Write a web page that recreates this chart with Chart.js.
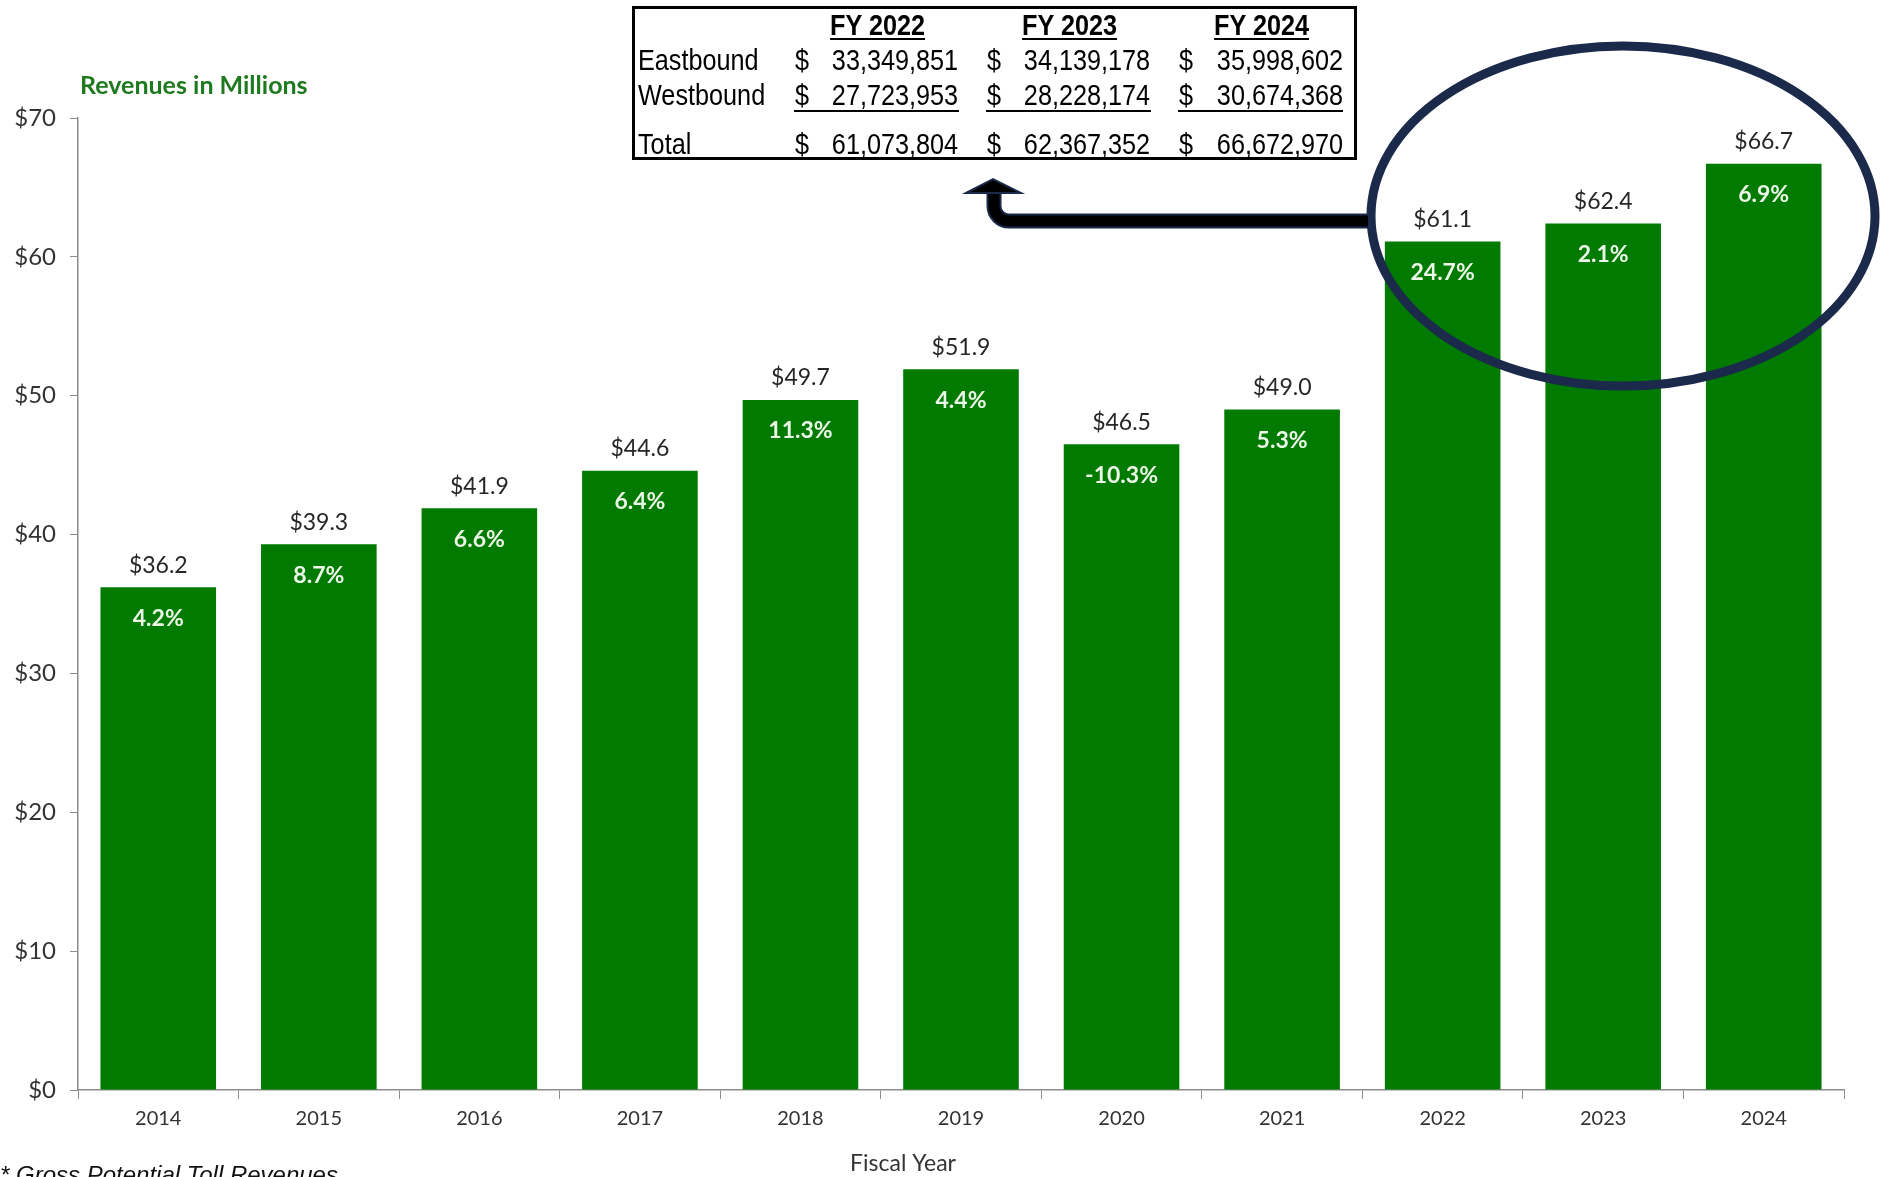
<!DOCTYPE html>
<html>
<head>
<meta charset="utf-8">
<script src="https://cdn.jsdelivr.net/npm/chart.js@4.4.1/dist/chart.umd.min.js"></script>
<style>
  html, body { margin: 0; padding: 0; background: #fff; }
  #wrap { position: relative; width: 1881px; height: 1177px; overflow: hidden; }
  #c { position: absolute; left: 0; top: 0; }
  #tbl { position: absolute; left: 632px; top: 6px; width: 719px; height: 148px;
         border: 3px solid #000; font-family: "Liberation Sans", Arial, sans-serif;
         font-size: 29px; color: #000; }
  #tbl span { position: absolute; white-space: nowrap; line-height: 1; }
  #tbl .hdr { font-weight: bold; text-decoration: underline; text-decoration-thickness: 2px; text-underline-offset: 3px; }
  #tbl .rule { position: absolute; height: 2px; background: #000; }
</style>
</head>
<body>
<div id="wrap">
  <canvas id="c" width="1881" height="1177"></canvas>
  <div id="tbl"></div>
</div>
<script>
// Fiscal-year toll revenues, $ millions
const years = ['2014', '2015', '2016', '2017', '2018', '2019', '2020', '2021', '2022', '2023', '2024'];
const revenues = [36.2, 39.3, 41.9, 44.6, 49.7, 51.9, 46.5, 49.0, 61.1, 62.4, 66.7];
const growthPct = [4.2, 8.7, 6.6, 6.4, 11.3, 4.4, -10.3, 5.3, 24.7, 2.1, 6.9];
const yTicks = [0, 10, 20, 30, 40, 50, 60, 70];

// Direction breakdown for the latest three years, $
const tableYears = ['FY 2022', 'FY 2023', 'FY 2024'];
const eastbound = [33349851, 34139178, 35998602];
const westbound = [27723953, 28228174, 30674368];
const totals = [61073804, 62367352, 66672970];

const BAR_GREEN = '#007a00';
const FONT = 'Lato, "Open Sans", sans-serif';
const NARROW = 0.87; // horizontal squeeze for the table's condensed look

// ---- summary table (HTML overlay) ----
(function buildTable() {
  const tbl = document.getElementById('tbl');
  const ox = 635, oy = 9; // inner origin of the box
  const put = (text, x, y, cls, anchor) => {
    const s = document.createElement('span');
    s.textContent = text;
    if (cls) s.className = cls;
    tbl.appendChild(s);
    const w = s.offsetWidth, h = s.offsetHeight;
    let left = x - ox;
    let origin = 'left';
    if (anchor === 'center') { left -= w / 2; origin = 'center'; }
    else if (anchor === 'right') { left -= w; origin = 'right'; }
    s.style.left = left + 'px';
    s.style.top = (y - oy - h / 2) + 'px';
    s.style.transformOrigin = origin + ' center';
    s.style.transform = 'scaleX(' + NARROW + ')';
  };
  const fmt = v => v.toLocaleString('en-US');
  const hdrX = [877, 1069, 1261];
  const dollarX = [802, 994, 1186];
  const numR = [958, 1150, 1343];
  const rows = [['Eastbound', eastbound, 60], ['Westbound', westbound, 95], ['Total', totals, 144]];
  tableYears.forEach((t, i) => put(t, hdrX[i], 25, 'hdr', 'center'));
  rows.forEach(([name, vals, y]) => {
    put(name, 638, y, '', 'left');
    vals.forEach((v, i) => {
      put('$', dollarX[i], y, '', 'center');
      put(fmt(v), numR[i], y, '', 'right');
    });
  });
  [[794, 959], [986, 1151], [1178, 1343]].forEach(([a, b]) => {
    const r = document.createElement('div');
    r.className = 'rule';
    r.style.left = (a - ox) + 'px';
    r.style.top = (110 - oy) + 'px';
    r.style.width = (b - a) + 'px';
    tbl.appendChild(r);
  });
})();

// ---- value and growth labels on the bars ----
const barLabels = {
  id: 'barLabels',
  afterDatasetsDraw(chart) {
    const ctx = chart.ctx;
    const meta = chart.getDatasetMeta(0);
    ctx.save();
    ctx.textAlign = 'center';
    ctx.textBaseline = 'middle';
    meta.data.forEach((bar, i) => {
      ctx.font = '23px ' + FONT;
      ctx.fillStyle = '#262626';
      ctx.fillText('$' + revenues[i].toFixed(1), bar.x, bar.y - 22);
      ctx.font = 'bold 23px ' + FONT;
      ctx.fillStyle = '#ecf7e8';
      ctx.fillText(growthPct[i].toFixed(1) + '%', bar.x, bar.y + 31);
    });
    ctx.restore();
  }
};

// ---- callout ellipse, arrow and free text ----
const annotations = {
  id: 'annotations',
  afterDraw(chart) {
    const ctx = chart.ctx;
    ctx.save();

    // unit caption
    ctx.font = 'bold 25px ' + FONT;
    ctx.fillStyle = '#1f7a1f';
    ctx.textAlign = 'left';
    ctx.textBaseline = 'middle';
    ctx.fillText('Revenues in Millions', 80, 86);

    // axis title
    ctx.font = '23px ' + FONT;
    ctx.fillStyle = '#333';
    ctx.textAlign = 'center';
    ctx.fillText('Fiscal Year', 903, 1164);

    // footnote
    ctx.font = 'italic 24px "Liberation Sans", Arial, sans-serif';
    ctx.fillStyle = '#111';
    ctx.textAlign = 'left';
    ctx.textBaseline = 'top';
    ctx.fillText('* Gross Potential Toll Revenues', 0, 1164);

    // ellipse around the last three years
    ctx.beginPath();
    ctx.ellipse(1623, 216, 252, 170, 0, 0, Math.PI * 2);
    ctx.lineWidth = 9;
    ctx.strokeStyle = '#1b2a4a';
    ctx.stroke();

    // arrow from the ellipse to the table
    const shaft = () => {
      ctx.beginPath();
      ctx.moveTo(1368, 221);
      ctx.lineTo(1009, 221);
      ctx.arcTo(994, 221, 994, 206, 15);
      ctx.lineTo(994, 192);
    };
    ctx.lineCap = 'butt';
    shaft();
    ctx.lineWidth = 15;
    ctx.strokeStyle = '#1b2a4a';
    ctx.stroke();
    shaft();
    ctx.lineWidth = 11;
    ctx.strokeStyle = '#000';
    ctx.stroke();
    ctx.beginPath();
    ctx.moveTo(966, 193);
    ctx.lineTo(993, 179);
    ctx.lineTo(1021, 193);
    ctx.closePath();
    ctx.fillStyle = '#000';
    ctx.fill();
    ctx.lineWidth = 2;
    ctx.strokeStyle = '#1b2a4a';
    ctx.stroke();

    ctx.restore();
  }
};

new Chart(document.getElementById('c'), {
  type: 'bar',
  data: {
    labels: years,
    datasets: [{
      data: revenues,
      backgroundColor: BAR_GREEN,
      borderWidth: 0,
      categoryPercentage: 1.0,
      barPercentage: 0.72
    }]
  },
  options: {
    responsive: false,
    devicePixelRatio: 1,
    animation: false,
    layout: { padding: { top: 118, right: 37, left: 0, bottom: 0 } },
    plugins: { legend: { display: false }, tooltip: { enabled: false } },
    scales: {
      x: {
        grid: { display: true, drawOnChartArea: false, drawTicks: true, tickLength: 9, color: '#8c8c8c', offset: true },
        border: { display: true, color: '#8c8c8c', width: 1.5 },
        ticks: { color: '#333', font: { family: FONT, size: 20 }, padding: 8, maxRotation: 0 },
        afterFit(scale) { scale.height = 87; }
      },
      y: {
        min: 0, max: 70,
        afterBuildTicks(scale) { scale.ticks = yTicks.map(v => ({ value: v })); },
        grid: { display: true, drawOnChartArea: false, drawTicks: true, tickLength: 8, color: '#8c8c8c' },
        border: { display: true, color: '#8c8c8c', width: 1.5 },
        ticks: { color: '#333', font: { family: FONT, size: 24 }, padding: 14, callback: v => '$' + v },
        afterFit(scale) { scale.width = 78; }
      }
    }
  },
  plugins: [barLabels, annotations]
});
</script>
</body>
</html>
